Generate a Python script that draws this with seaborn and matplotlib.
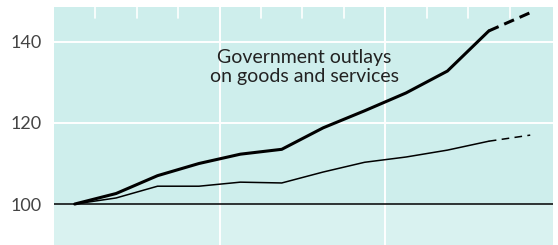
import pandas as pd
import seaborn as sns
import matplotlib.pyplot as plt
import numpy as np

# index values, one per year (plotted at mid-year)
years = [0.5, 1.5, 2.5, 3.5, 4.5, 5.5, 6.5, 7.5, 8.5, 9.5, 10.5, 11.5]
outlays = [100, 102.6, 107.0, 110.0, 112.3, 113.5, 118.8, 123.0, 127.4, 132.8, 142.7, 147.2]
other = [100, 101.5, 104.4, 104.4, 105.4, 105.2, 107.9, 110.3, 111.6, 113.3, 115.5, 117.0]
n_actual = 11  # last point is a projection (dashed)

yticks = [100, 120, 140]
ytick_labels = ["100", "120", "140"]

bg = "#ceeeec"
sns.set_style("white")
plt.rcParams['font.family'] = ['Lato', 'DejaVu Sans']

fig = plt.figure(figsize=(5.58, 2.45), dpi=100)
ax = fig.add_axes([54 / 558, 0, 499 / 558, 238 / 245])
ax.set_facecolor(bg)

df = pd.DataFrame({"year": years, "outlays": outlays, "other": other})
solid = df.iloc[:n_actual]
proj = df.iloc[n_actual - 1:]

ax.axhspan(89, 100, color="#d9f2f0", lw=0, zorder=0)

# white grid
for y in [120, 140]:
    ax.axhline(y, color="white", lw=1.4, zorder=1)
for x in [4, 8]:
    ax.axvline(x, color="white", lw=1.4, zorder=1)
for x in range(1, 12):
    ax.plot([x, x], [148.6, 146.0], color="white", lw=1.2, zorder=1)
ax.axhline(100, color="black", lw=1.1, zorder=2)

sns.lineplot(data=solid, x="year", y="outlays", color="black", lw=2.2, ax=ax, zorder=3)
sns.lineplot(data=proj, x="year", y="outlays", color="black", lw=2.2, ax=ax, zorder=3,
             linestyle=(0, (3.5, 2)))
sns.lineplot(data=solid, x="year", y="other", color="black", lw=1.1, ax=ax, zorder=3)
sns.lineplot(data=proj, x="year", y="other", color="black", lw=1.1, ax=ax, zorder=3,
             linestyle=(0, (5, 3.5)))

ax.text(6.05, 133.8, "Government outlays\non goods and services", ha="center", va="center",
        fontsize=14, color="#222222", linespacing=1.15)

ax.set_xlim(0, 12.05)
ax.set_ylim(89.9, 148.6)
ax.set_xticks([])
ax.set_yticks(yticks)
ax.set_yticklabels(ytick_labels, fontsize=13, color="#444444")
ax.tick_params(axis="y", length=0, pad=9)
ax.set_xlabel("")
ax.set_ylabel("")
for s in ax.spines.values():
    s.set_visible(False)

fig.savefig("out.png", dpi=100)
